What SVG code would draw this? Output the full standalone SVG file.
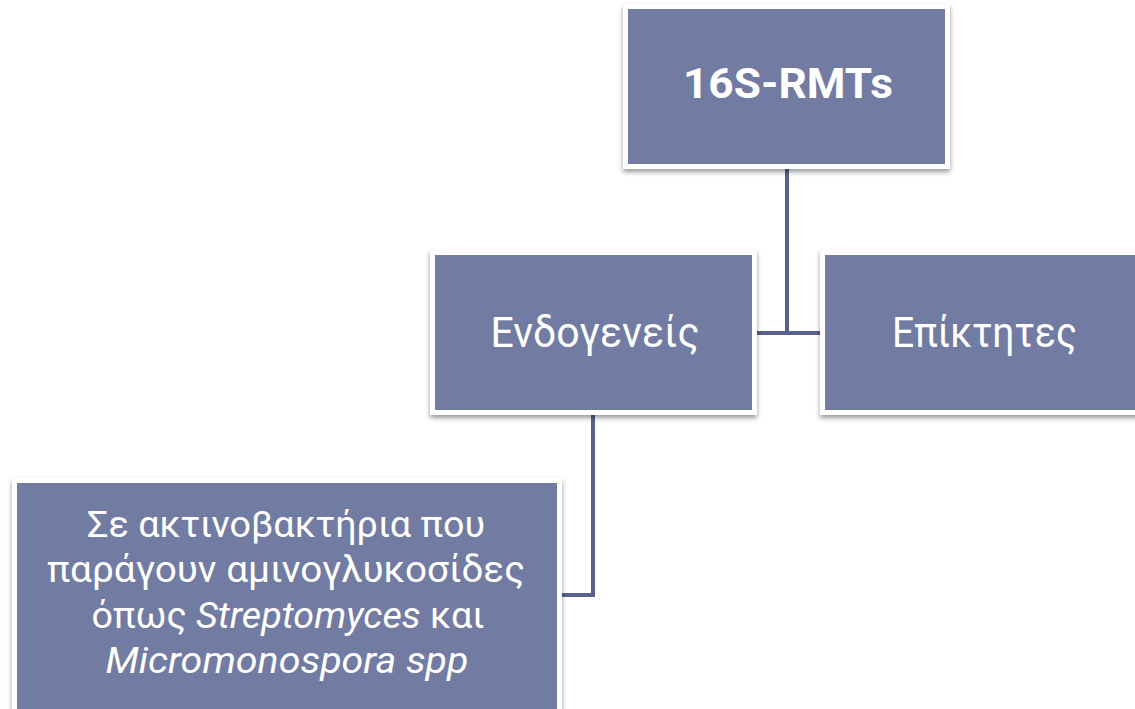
<svg xmlns="http://www.w3.org/2000/svg" width="1135" height="709" viewBox="0 0 1135 709">
  <defs>
    <filter id="shadow" x="-10%" y="-10%" width="120%" height="130%">
      <feDropShadow dx="0" dy="3" stdDeviation="2.5" flood-color="#000" flood-opacity="0.4"/>
    </filter>
  </defs>
  <style>
    .frame { fill: #ffffff; filter: url(#shadow); }
    .box { fill: #727ba2; }
    .label { fill: #ffffff; font-family: Roboto, "Open Sans", sans-serif; text-anchor: middle; }
    .wire { fill: none; stroke: #59618a; stroke-width: 4; }
  </style>
  <rect width="1135" height="709" fill="#ffffff"/>

  <!-- connectors -->
  <g id="connectors">
    <polyline class="wire" points="787,168 787,333 756,333"/>
    <line class="wire" x1="787" y1="333" x2="821" y2="333"/>
    <polyline class="wire" points="593,413 593,595 561,595"/>
  </g>

  <!-- root node -->
  <g id="node-root">
    <rect class="frame" x="623" y="4" width="327" height="165"/>
    <rect class="box" x="628" y="9" width="317" height="155"/>
    <text class="label" x="788" y="98" font-size="43" font-weight="bold" textLength="210" lengthAdjust="spacingAndGlyphs">16S-RMTs</text>
  </g>

  <!-- endogenous -->
  <g id="node-endogenous">
    <rect class="frame" x="430" y="250" width="327" height="165"/>
    <rect class="box" x="435" y="255" width="317" height="155"/>
    <text class="label" x="595" y="347" font-size="42" textLength="209" lengthAdjust="spacingAndGlyphs">Ενδογενείς</text>
  </g>

  <!-- acquired -->
  <g id="node-acquired">
    <rect class="frame" x="820" y="250" width="327" height="165"/>
    <rect class="box" x="825" y="255" width="317" height="155"/>
    <text class="label" x="984.5" y="347" font-size="42" textLength="185" lengthAdjust="spacingAndGlyphs">Επίκτητες</text>
  </g>

  <!-- actinobacteria -->
  <g id="node-actinobacteria">
    <rect class="frame" x="12" y="478" width="550" height="240"/>
    <rect class="box" x="17" y="483" width="540" height="230"/>
    <text class="label" x="286" y="537" font-size="36" textLength="398" lengthAdjust="spacingAndGlyphs">Σε ακτινοβακτήρια που</text>
    <text class="label" x="286" y="582" font-size="36" textLength="478" lengthAdjust="spacingAndGlyphs">παράγουν αμινογλυκοσίδες</text>
    <text class="label" x="288" y="628" font-size="36" textLength="393" lengthAdjust="spacingAndGlyphs">όπως <tspan font-style="italic">Streptomyces</tspan> και</text>
    <text class="label" x="287" y="673" font-size="36" font-style="italic" textLength="363" lengthAdjust="spacingAndGlyphs">Micromonospora spp</text>
  </g>
</svg>
